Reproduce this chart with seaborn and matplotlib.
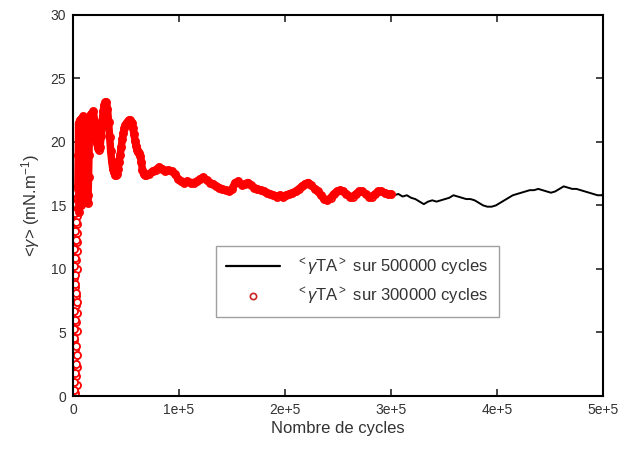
import pandas as pd
import matplotlib.pyplot as plt
from matplotlib.lines import Line2D
import seaborn as sns

# <gamma_TA> for the 300000-cycle run (red markers)
red_x = [1500, 3400, 800, 2600, 1200, 3800, 1900, 700, 3000, 1500, 3600, 900, 2400,
         3900, 1300, 2800, 800, 3500, 1900, 3100, 1000, 2500, 3800, 1400, 3200, 900,
         2200, 3700, 1600, 2900, 1100, 3900, 2300, 3300, 1300, 3800, 2400, 3400, 1600,
         3900, 2600, 3600, 2000, 4100, 2800, 4400,
         4600, 5000, 5300, 5600, 5900, 6200, 6500, 6800, 7100, 7400, 7700, 8000, 8300,
         8600, 9000, 9400, 9800, 10200, 10600, 11000, 11400, 11800, 12200, 12600, 13000,
         13400, 13800, 14200, 14600, 15000, 15400, 15800, 16200, 17000, 18000,
         19200, 20400, 21500, 22500, 23500, 24500,
         25500, 26500, 27500, 28500, 29500, 30500, 31500, 32500, 33500, 34500, 35500,
         36500, 37500, 38500, 39500, 40500, 41500, 42500, 43500, 44500, 45500, 46500,
         47500, 48500, 49500, 50500, 51500, 52500, 53500, 54500, 55500, 56500, 57500,
         58500, 59500, 60500, 61500, 62500, 63500, 64500, 65500, 66500, 67500, 69000,
         72000, 75000, 78000, 81000, 84000,
         87000, 90000, 93000, 96000, 99000, 102000, 105000, 108000, 111000, 114000,
         117000, 120000, 123000, 126000, 129000, 132000, 135000, 138000, 141000, 144000,
         147000, 150000, 153000, 156000, 159000, 162000, 165000, 168000, 171000, 174000,
         177000, 180000, 183000, 186000, 189000, 192000, 195000, 198000, 201000, 204000,
         207000, 210000, 213000, 216000, 219000, 222000, 225000, 228000, 231000, 234000,
         237000, 240000, 243000, 246000, 249000, 252000, 255000, 258000, 261000, 264000,
         267000, 270000, 273000, 276000, 279000, 282000, 285000, 288000, 291000, 294000,
         297000, 300000]
red_y = [0.2, 0.9, 0.5, 1.6, 1.1, 2.3, 1.8, 3.0, 2.5, 3.7, 3.2, 4.4, 3.9, 5.1, 4.6,
         5.8, 5.3, 6.5, 6.0, 7.2, 6.7, 7.9, 7.4, 8.6, 8.1, 9.3, 8.8, 10.0, 9.5, 10.7,
         10.2, 11.4, 10.9, 12.1, 11.6, 12.8, 12.3, 13.5, 13.0, 14.2, 13.7, 14.9, 14.4,
         15.6, 15.1, 16.3,
         16.5, 19.0, 21.5, 18.0, 14.5, 17.5, 21.7, 18.5, 15.0, 18.0, 21.8, 19.0, 15.8,
         18.5, 21.5, 20.5, 22.0, 20.0, 17.5, 19.5, 21.8, 20.5, 18.0, 16.5, 15.6,
         15.3, 15.2, 15.8, 17.2, 19.0, 20.6, 21.6, 22.0, 22.2, 22.0,
         22.4, 21.6, 20.6, 19.9, 19.5, 19.4,
         19.6, 20.5, 21.6, 22.4, 22.9, 23.1, 23.1, 22.6, 21.6, 20.4, 19.3,
         18.5, 17.9, 17.6, 17.4, 17.4, 17.5, 17.9, 18.4, 19.0, 19.6, 20.2,
         20.7, 21.1, 21.3, 21.5, 21.6, 21.7, 21.7, 21.6, 21.5, 21.1, 20.6,
         20.1, 19.7, 19.4, 19.2, 19.1, 18.9, 18.4, 17.8, 17.5, 17.4, 17.4,
         17.5, 17.7, 17.8, 18.0, 17.9,
         17.7, 17.8, 17.7, 17.5, 17.1, 16.9, 16.8, 16.9, 16.8, 16.8,
         16.9, 17.1, 17.2, 17.0, 16.8, 16.7, 16.5, 16.4, 16.3, 16.2,
         16.1, 16.3, 16.8, 16.9, 16.6, 16.7, 16.8, 16.6, 16.4, 16.3,
         16.2, 16.1, 16.0, 15.9, 15.8, 15.7, 15.8, 15.7, 15.8, 15.9,
         16.0, 16.1, 16.3, 16.5, 16.7, 16.8, 16.6, 16.3, 16.1, 15.8,
         15.5, 15.4, 15.6, 15.9, 16.1, 16.2, 16.1, 15.9, 15.7, 15.7,
         15.9, 16.1, 16.1, 15.9, 15.7, 15.7, 15.9, 16.1, 16.1, 16.0,
         15.9, 15.9]

# rest of the 500000-cycle run (black line only)
tail_x = [303000, 307000, 311000, 315000, 319000, 323000, 327000, 331000, 335000,
          339000, 343000, 347000, 351000, 355000, 359000, 363000, 367000, 371000,
          375000, 379000, 383000, 387000, 391000, 395000, 399000, 403000, 407000,
          411000, 415000, 419000, 423000, 427000, 431000, 435000, 439000, 443000,
          447000, 451000, 455000, 459000, 463000, 467000, 471000, 475000, 479000,
          483000, 487000, 491000, 495000, 499000, 500000]
tail_y = [15.8, 15.9, 15.7, 15.8, 15.6, 15.5, 15.3, 15.1, 15.3,
          15.4, 15.3, 15.4, 15.5, 15.6, 15.8, 15.7, 15.6, 15.5,
          15.5, 15.4, 15.2, 15.0, 14.9, 14.9, 15.0, 15.2, 15.4,
          15.6, 15.8, 15.9, 16.0, 16.1, 16.2, 16.2, 16.3, 16.2,
          16.1, 16.0, 16.1, 16.3, 16.5, 16.4, 16.3, 16.3, 16.2,
          16.1, 16.0, 15.9, 15.8, 15.8, 15.9]

x_ticks = [0, 100000, 200000, 300000, 400000, 500000]
x_tick_labels = ["0", "1e+5", "2e+5", "3e+5", "4e+5", "5e+5"]
y_ticks = [0, 5, 10, 15, 20, 25, 30]

sns.set_style("ticks")
plt.rcParams['font.family'] = ['Liberation Sans', 'DejaVu Sans']
plt.rcParams['mathtext.fontset'] = 'custom'
plt.rcParams['mathtext.rm'] = 'Liberation Sans'
plt.rcParams['mathtext.it'] = 'Liberation Sans:italic'

full = pd.DataFrame({"cycles": red_x + tail_x, "gamma": red_y + tail_y})
red = pd.DataFrame({"cycles": red_x, "gamma": red_y})
band = red.iloc[46:]

fig, ax = plt.subplots(figsize=(6.19, 4.49), dpi=100)
fig.subplots_adjust(left=0.118, right=0.974, bottom=0.118, top=0.967)

sns.lineplot(data=full.iloc[46:], x="cycles", y="gamma", color="black", lw=1.4,
             sort=False, estimator=None, ax=ax)
ax.lines[-1].set_zorder(2)
sns.scatterplot(data=red, x="cycles", y="gamma", marker="o", s=26, color="white",
                edgecolor="red", linewidth=1.3, ax=ax)
ax.collections[-1].set_zorder(3)
# overlapping markers look like a solid red band
sns.lineplot(data=band, x="cycles", y="gamma", color="red", lw=5.4, sort=False,
             estimator=None, ax=ax)
ax.lines[-1].set_zorder(4)

ax.set_xlim(0, 500000)
ax.set_ylim(0, 30)
ax.set_xticks(x_ticks)
ax.set_xticklabels(x_tick_labels)
ax.set_yticks(y_ticks)
ax.tick_params(direction="in", top=True, right=True, length=5, width=1.2,
               labelsize=10, labelcolor="#333333", pad=5)
for sp in ax.spines.values():
    sp.set_linewidth(1.5)
    sp.set_color("black")
    sp.set_zorder(5)

ax.set_xlabel("Nombre de cycles", fontsize=12, color="#333333", labelpad=3)
ax.set_ylabel(r"<$\gamma$> (mN.m$^{-1}$)", fontsize=12, color="#333333", labelpad=6)

handles = [
    Line2D([], [], color="black", lw=1.6),
    Line2D([], [], ls="none", marker="o", ms=4.5, mfc="white", mec="#cc2222", mew=1.2),
]
labels = [r"$^{<}\gamma$TA$^{>}$ sur 500000 cycles",
          r"$^{<}\gamma$TA$^{>}$ sur 300000 cycles"]
leg = ax.legend(handles, labels, loc="upper left", bbox_to_anchor=(0.255, 0.415),
                fontsize=12, frameon=True, fancybox=False, edgecolor="#888888",
                handlelength=3.2, borderpad=0.6, labelspacing=0.5, handletextpad=1.0)
leg.get_frame().set_linewidth(1.0)
for t in leg.get_texts():
    t.set_color("#333333")

fig.savefig("out.png", dpi=100)
